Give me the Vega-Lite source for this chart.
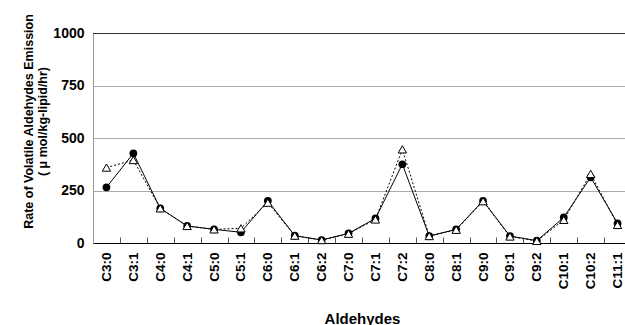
{
  "$schema": "https://vega.github.io/schema/vega-lite/v6.json",
  "autosize": "none",
  "width": 532,
  "height": 210,
  "padding": {"left": 93, "top": 33, "right": 0, "bottom": 82},
  "background": "white",
  "config": {
    "font": "Liberation Sans",
    "view": {"stroke": null}
  },
  "data": {
    "values": [
      {"cat": "C3:0", "s1": 265, "s2": 359},
      {"cat": "C3:1", "s1": 427, "s2": 395},
      {"cat": "C4:0", "s1": 165, "s2": 165},
      {"cat": "C4:1", "s1": 81, "s2": 81},
      {"cat": "C5:0", "s1": 65, "s2": 65},
      {"cat": "C5:1", "s1": 51, "s2": 70},
      {"cat": "C6:0", "s1": 201, "s2": 192},
      {"cat": "C6:1", "s1": 35, "s2": 35},
      {"cat": "C6:2", "s1": 14, "s2": 14},
      {"cat": "C7:0", "s1": 46, "s2": 44},
      {"cat": "C7:1", "s1": 117, "s2": 112},
      {"cat": "C7:2", "s1": 375, "s2": 446},
      {"cat": "C8:0", "s1": 33, "s2": 33},
      {"cat": "C8:1", "s1": 65, "s2": 63},
      {"cat": "C9:0", "s1": 201, "s2": 199},
      {"cat": "C9:1", "s1": 33, "s2": 31},
      {"cat": "C9:2", "s1": 11, "s2": 10},
      {"cat": "C10:1", "s1": 122, "s2": 110},
      {"cat": "C10:2", "s1": 313, "s2": 329},
      {"cat": "C11:1", "s1": 94, "s2": 86}
    ]
  },
  "layer": [
    {
      "mark": {"type": "line", "color": "#000", "strokeWidth": 1},
      "encoding": {
        "x": {
          "field": "cat",
          "type": "ordinal",
          "sort": null,
          "scale": {"range": [0, 538], "paddingInner": 0, "paddingOuter": 0},
          "axis": {
            "title": "Aldehydes",
            "titleFontSize": 15,
            "titleFontWeight": "bold",
            "titleColor": "#000",
            "titleY": 80,
            "titleX": 269,
            "titleBaseline": "alphabetic",
            "labelAngle": -90,
            "labelFontSize": 13.5,
            "labelFontWeight": "bold",
            "labelColor": "#000",
            "labelPadding": 15,
            "tickBand": "extent",
            "tickSize": -6,
            "tickColor": "#555",
            "domainColor": "#000",
            "grid": false
          }
        },
        "y": {
          "field": "s1",
          "type": "quantitative",
          "scale": {"domain": [0, 1000], "nice": false},
          "axis": {
            "title": ["Rate of Volatile Aldehydes Emission", "( μ mol/kg-lipid/hr)"],
            "titleFontSize": 12.5,
            "titleFontWeight": "bold",
            "titleColor": "#000",
            "titleLineHeight": 14,
            "titleAngle": -90,
            "titleAlign": "center",
            "titleBaseline": "middle",
            "titleX": -65,
            "titleY": 88,
            "values": [0, 250, 500, 750, 1000],
            "format": "d",
            "labelFontSize": 14,
            "labelFontWeight": "bold",
            "labelColor": "#000",
            "labelPadding": 9,
            "ticks": false,
            "domainColor": "#999",
            "grid": true,
            "gridColor": "#aaa"
          }
        }
      }
    },
    {
      "mark": {"type": "rule", "color": "#333", "strokeWidth": 1, "yOffset": 0.5},
      "encoding": {"y": {"datum": 1000, "type": "quantitative"}}
    },
    {
      "mark": {"type": "line", "color": "#000", "strokeWidth": 1, "strokeDash": [2, 2]},
      "encoding": {
        "x": {"field": "cat", "type": "ordinal", "sort": null},
        "y": {"field": "s2", "type": "quantitative"}
      }
    },
    {
      "mark": {"type": "point", "shape": "circle", "filled": true, "color": "#000", "size": 60, "opacity": 1},
      "encoding": {
        "x": {"field": "cat", "type": "ordinal", "sort": null},
        "y": {"field": "s1", "type": "quantitative"}
      }
    },
    {
      "mark": {"type": "point", "shape": "triangle-up", "filled": true, "fill": "#fff", "stroke": "#000", "strokeWidth": 1, "size": 70, "opacity": 1},
      "encoding": {
        "x": {"field": "cat", "type": "ordinal", "sort": null},
        "y": {"field": "s2", "type": "quantitative"}
      }
    }
  ]
}
